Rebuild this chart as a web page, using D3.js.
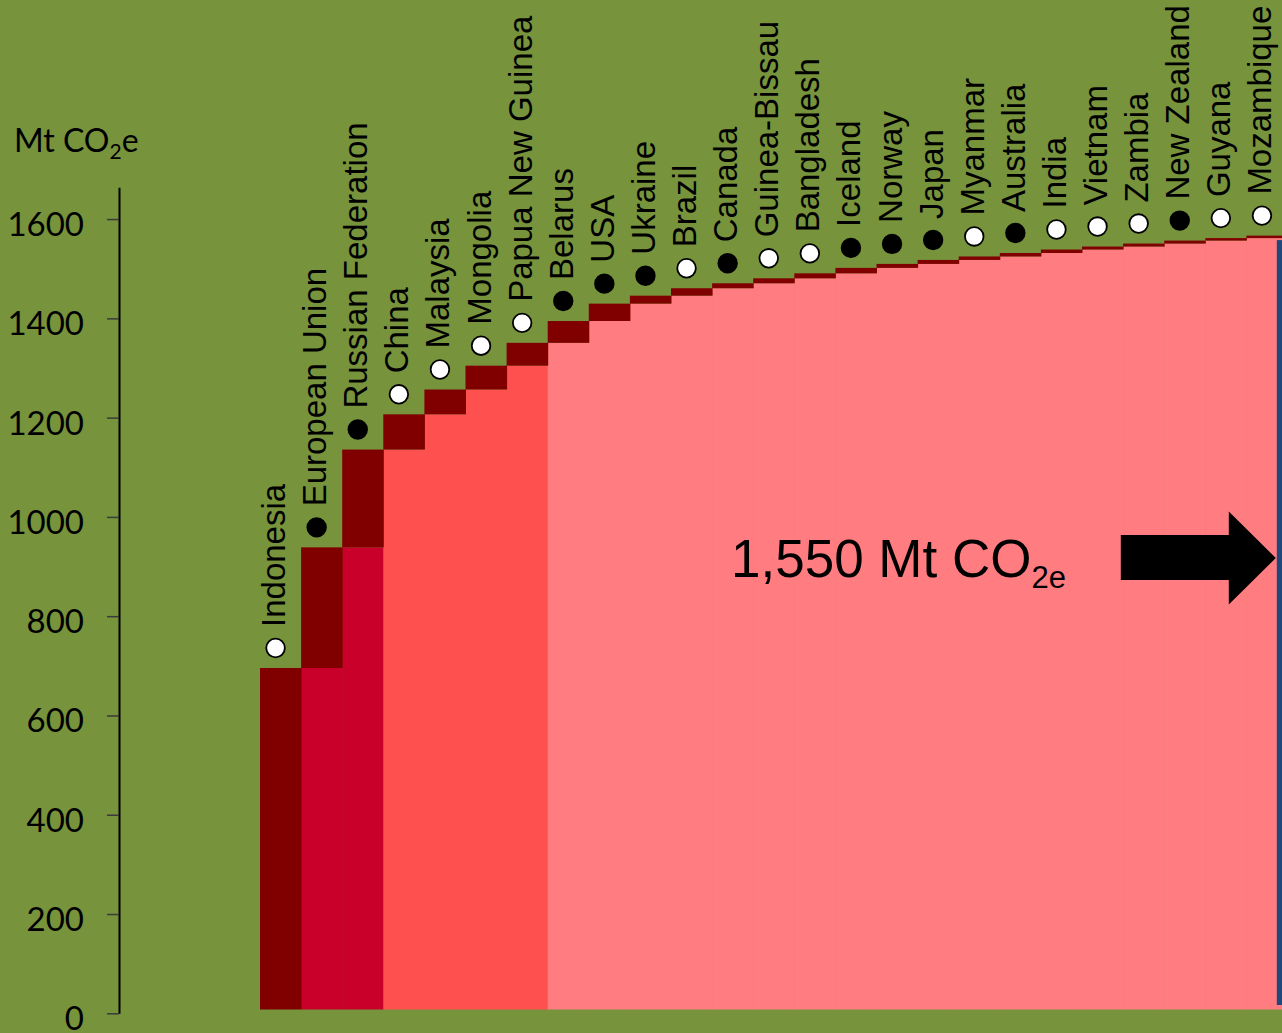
<!DOCTYPE html>
<html>
<head>
<meta charset="utf-8">
<script src="https://cdn.jsdelivr.net/npm/d3@7"></script>
<style>
  html, body { margin: 0; padding: 0; background: #77933C; overflow: hidden; }
  svg { display: block; }
</style>
</head>
<body>
<svg id="chart" width="1282" height="1033"></svg>
<script>
// Cumulative emissions, country by country (Mt CO2e)
const countries = ["Indonesia", "European Union", "Russian Federation", "China", "Malaysia",
  "Mongolia", "Papua New Guinea", "Belarus", "USA", "Ukraine", "Brazil", "Canada",
  "Guinea-Bissau", "Bangladesh", "Iceland", "Norway", "Japan", "Myanmar", "Australia",
  "India", "Vietnam", "Zambia", "New Zealand", "Guyana", "Mozambique"];
const emissions = [688, 243, 197, 71, 50, 48, 46, 44, 35, 16, 15, 10, 10, 10, 11, 8, 8, 7, 7, 7, 6, 6, 6, 5, 5];
// 1 = Annex I party (filled marker), 0 = non-Annex I (open marker)
const annexI = [0, 1, 1, 0, 0, 0, 0, 1, 1, 1, 0, 1, 0, 0, 1, 1, 1, 0, 1, 0, 0, 0, 1, 0, 0];
// group of the running-total block under each step
const baseGroup = ["none", "g1", "g1", "g2", "g2", "g2", "g2", "g3", "g3", "g3", "g3", "g3", "g3",
  "g3", "g3", "g3", "g3", "g3", "g3", "g3", "g3", "g3", "g3", "g3", "g3"];
const totalValue = 1550;
const yTicks = [0, 200, 400, 600, 800, 1000, 1200, 1400, 1600];

const colors = {
  background: "#77933C",
  step: "#800000",
  g1: "#C8002A",
  g2: "#FF5050",
  g3: "#FF7C80",
  total: "#1F497D"
};

const svg = d3.select("#chart");
svg.append("rect").attr("width", 1282).attr("height", 1033).attr("fill", colors.background);

// running totals
let run = 0;
const rows = countries.map((c, i) => {
  const start = run;
  run += emissions[i];
  return { name: c, start, end: run, annex: annexI[i], group: baseGroup[i] };
});

const x = d3.scaleBand().domain(countries).range([260, 1287.5]).padding(0);
const y = d3.scaleLinear().domain([0, 1664]).range([1013.3, 187.3]);
// the bar layer sits on a baseline a few pixels above the axis zero
const yBar = d3.scaleLinear().domain([0, 1664]).range([1009.5, 183.5]);

// axis
const axis = d3.axisLeft(y).tickValues(yTicks).tickSizeInner(12).tickSizeOuter(0).tickPadding(23)
  .tickFormat(d3.format("d"));
const gAxis = svg.append("g").attr("transform", "translate(119,0)").call(axis);
gAxis.select(".domain").attr("stroke", "#000").attr("stroke-width", 2);
gAxis.selectAll(".tick line").attr("stroke", "#3a3a3a").attr("stroke-width", 1.5);
gAxis.selectAll(".tick text")
  .attr("fill", "#000")
  .attr("dy", "0.5em")
  .style("font-family", "Lato, 'Open Sans', sans-serif")
  .style("font-size", "33px");

// axis unit title
const unit = svg.append("text")
  .attr("x", 14).attr("y", 152)
  .style("font-family", "Lato, 'Open Sans', sans-serif")
  .style("font-size", "32px")
  .attr("fill", "#000");
unit.append("tspan").text("Mt CO");
unit.append("tspan").text("2").style("font-size", "21px").attr("dy", 7);
unit.append("tspan").text("e").attr("dy", -7);

// running-total blocks
const bars = svg.append("g");
bars.selectAll("rect.base")
  .data(rows.filter(d => d.start > 0))
  .join("rect")
  .attr("class", "base")
  .attr("x", d => x(d.name))
  .attr("width", x.bandwidth() + 0.5)
  .attr("y", d => yBar(d.start))
  .attr("height", d => yBar(0) - yBar(d.start))
  .attr("fill", d => colors[d.group]);

// each country's own contribution
bars.selectAll("rect.step")
  .data(rows)
  .join("rect")
  .attr("class", "step")
  .attr("x", d => x(d.name))
  .attr("width", x.bandwidth() + 0.5)
  .attr("y", d => yBar(d.end))
  .attr("height", d => yBar(d.start) - yBar(d.end))
  .attr("fill", colors.step);

// total bar at the right edge
const totalX = x("Mozambique") + x.bandwidth() * 0.74;
svg.append("rect")
  .attr("x", totalX)
  .attr("width", 60)
  .attr("y", yBar(totalValue))
  .attr("height", yBar(0) - 4.5 - yBar(totalValue))
  .attr("fill", colors.total);

// country markers and names
const labels = svg.append("g");
const lab = labels.selectAll("g.lab")
  .data(rows)
  .join("g")
  .attr("class", "lab")
  .attr("transform", d => `translate(${x(d.name) + x.bandwidth() / 2 - 5},${yBar(d.end) - 20})`);
lab.append("circle")
  .attr("r", 9.3)
  .attr("fill", d => d.annex ? "#000" : "#fff")
  .attr("stroke", "#000")
  .attr("stroke-width", 1.8);
lab.append("text")
  .attr("transform", "translate(9.5,-21) rotate(-90)")
  .style("font-family", "'Liberation Sans', Arial, sans-serif")
  .style("font-size", "33px")
  .attr("fill", "#000")
  .text(d => d.name);

// total annotation
const note = svg.append("text")
  .attr("x", 731).attr("y", 577)
  .style("font-family", "'Liberation Sans', Arial, sans-serif")
  .style("font-size", "53px")
  .attr("fill", "#000");
note.append("tspan").text(d3.format(",")(totalValue) + " Mt CO");
note.append("tspan").text("2e").style("font-size", "31px").attr("dy", 11);

// arrow pointing at the total bar
const tipX = totalX - 1, cy = 558;
const arrow = [
  [tipX - 155, cy - 23], [tipX - 47, cy - 23], [tipX - 47, cy - 46.5],
  [tipX, cy], [tipX - 47, cy + 46.5], [tipX - 47, cy + 22], [tipX - 155, cy + 22]
];
svg.append("path")
  .attr("d", d3.line()(arrow) + "Z")
  .attr("fill", "#000");
</script>
</body>
</html>
